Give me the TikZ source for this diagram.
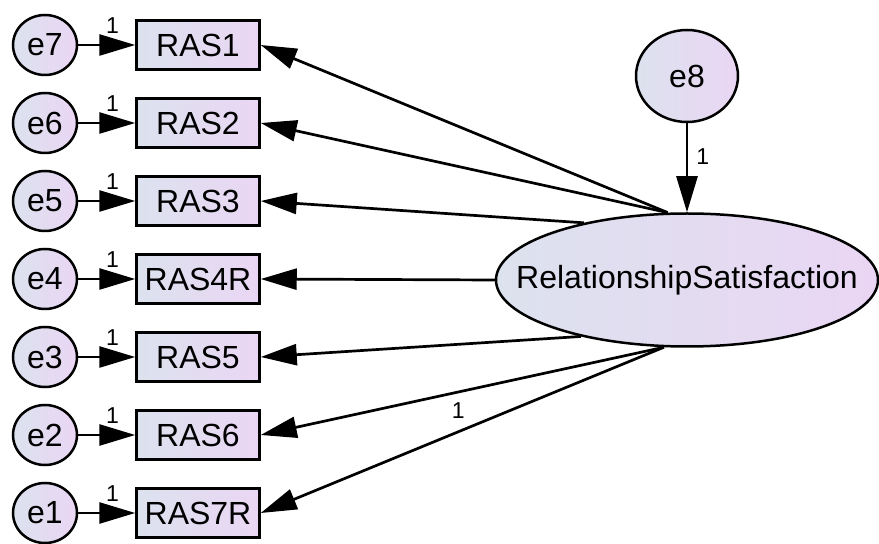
\documentclass[tikz,border=0pt]{standalone}
\usepackage{fontspec}
\setmainfont{Liberation Sans}
\usetikzlibrary{arrows.meta,shapes.geometric}
\definecolor{shadeL}{RGB}{220,226,238}
\definecolor{shadeR}{RGB}{234,214,244}
\begin{document}
\begin{tikzpicture}[x=1pt, y=1pt, node distance={78pt},
  err/.style = {draw, ellipse, line width=2.5pt, left color=shadeL, right color=shadeR, minimum width=64pt, minimum height=60pt, inner sep=0pt, font=\fontsize{32}{38}\selectfont},
  ind/.style = {draw, rectangle, line width=2.5pt, left color=shadeL, right color=shadeR, minimum width=123pt, minimum height=49pt, inner sep=0pt, font=\fontsize{32}{38}\selectfont},
  arr/.style = {line width=2.7pt, -{Triangle[length=36pt, width=21pt]}},
  lbl/.style = {inner sep=0pt, font=\fontsize{23}{25}\selectfont}]
\useasboundingbox (0,0) rectangle (879,544);

\node[err] (e7) at (45,499) {e7};
\node[err] (e6) [below of=e7] {e6};
\node[err] (e5) [below of=e6] {e5};
\node[err] (e4) [below of=e5] {e4};
\node[err] (e3) [below of=e4] {e3};
\node[err] (e2) [below of=e3] {e2};
\node[err] (e1) [below of=e2] {e1};

\node[ind] (r1) at (198,499) {RAS1};
\node[ind] (r2) [below of=r1] {RAS2};
\node[ind] (r3) [below of=r2] {RAS3};
\node[ind] (r4) [below of=r3] {RAS4R};
\node[ind] (r5) [below of=r4] {RAS5};
\node[ind] (r6) [below of=r5] {RAS6};
\node[ind] (r7) [below of=r6] {RAS7R};

\node[draw, ellipse, line width=2.5pt, left color=shadeL, right color=shadeR, minimum width=382pt, minimum height=133pt, inner sep=0pt,
  label={[font=\fontsize{32}{38}\selectfont]center:RelationshipSatisfaction}] (rs) at (687,264) {};
\node[err, minimum width=102pt, minimum height=92pt] (e8) at (687,468) {e8};

\draw[arr] (e7) -- node[lbl, pos=0.6, above=10pt] {1} (r1);
\draw[arr] (e6) -- node[lbl, pos=0.6, above=10pt] {1} (r2);
\draw[arr] (e5) -- node[lbl, pos=0.6, above=10pt] {1} (r3);
\draw[arr] (e4) -- node[lbl, pos=0.6, above=10pt] {1} (r4);
\draw[arr] (e3) -- node[lbl, pos=0.6, above=10pt] {1} (r5);
\draw[arr] (e2) -- node[lbl, pos=0.6, above=10pt] {1} (r6);
\draw[arr] (e1) -- node[lbl, pos=0.6, above=10pt] {1} (r7);

\draw[arr] (rs.106) -- (r1.east);
\draw[arr] (rs.106) -- (r2.east);
\draw[arr] (rs.151) -- (r3.east);
\draw[arr] (rs.west) -- (r4.east);
\draw[arr] (rs.208) -- (r5.east);
\draw[arr] (rs.251) -- (r6.east);
\draw[arr] (rs.251) -- node[lbl, pos=0.51, above=12pt] {1} (r7.east);

\draw[arr] (e8) -- node[lbl, pos=0.38, right=8pt] {1} (rs);
\end{tikzpicture}
\end{document}
